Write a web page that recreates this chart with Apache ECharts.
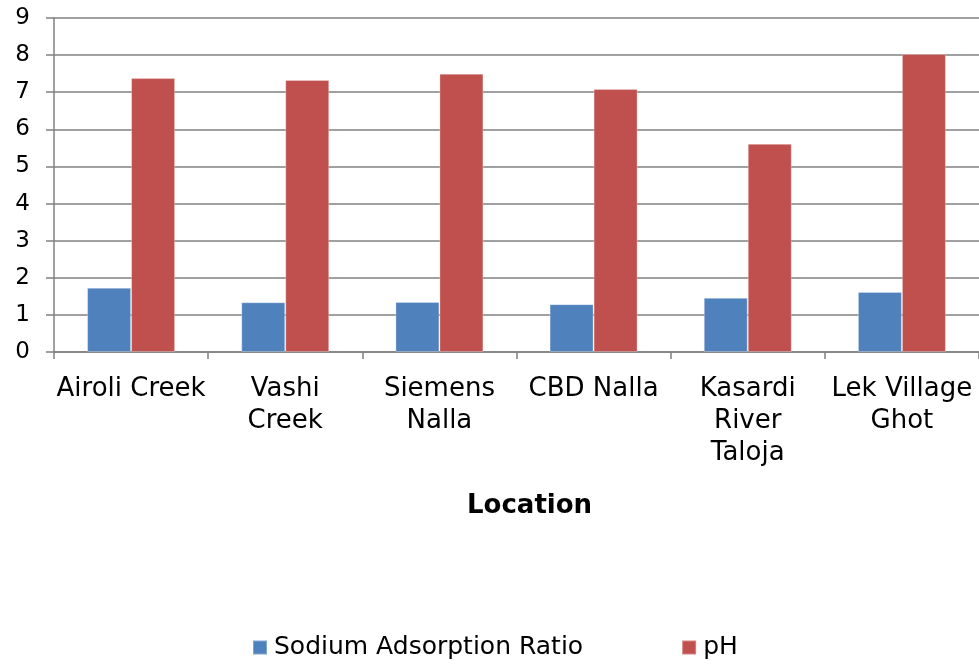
<!DOCTYPE html>
<html>
<head>
<meta charset="utf-8">
<script src="https://cdn.jsdelivr.net/npm/echarts@6/dist/echarts.min.js"></script>
<style>
  html, body { margin: 0; padding: 0; background: #fff; }
  #chart { width: 979px; height: 666px; }
</style>
</head>
<body>
<div id="chart"></div>
<script>
// Sampling locations along the x axis
const locations = [
  'Airoli Creek',
  'Vashi\nCreek',
  'Siemens\nNalla',
  'CBD Nalla',
  'Kasardi\nRiver\nTaloja',
  'Lek Village\nGhot'
];

// Measured values per location
const sodiumAdsorptionRatio = [1.73, 1.34, 1.35, 1.29, 1.46, 1.62];
const phValues = [7.38, 7.33, 7.50, 7.09, 5.61, 8.03];

// Value axis ticks
const yMin = 0;
const yMax = 9;
const yStep = 1;

const FONT = '"DejaVu Sans", Verdana, sans-serif';
const GRID_GREY = '#808080';

const chart = echarts.init(document.getElementById('chart'), null, { renderer: 'canvas' });

chart.setOption({
  backgroundColor: '#ffffff',
  animation: false,
  textStyle: { fontFamily: FONT },
  title: {
    text: 'Location',
    left: 467,
    top: 493,
    padding: 0,
    textStyle: { fontFamily: FONT, fontSize: 26, fontWeight: 'bold', color: '#000' }
  },
  legend: {
    left: 252,
    top: 635,
    padding: 0,
    itemWidth: 14,
    itemHeight: 14,
    itemGap: 98,
    icon: 'rect',
    textStyle: { fontFamily: FONT, fontSize: 25, color: '#000', padding: [0, 0, 0, 2] },
    data: ['Sodium Adsorption Ratio', 'pH']
  },
  grid: {
    left: 54,
    right: -7,
    top: 18,
    bottom: 314,
    containLabel: false
  },
  xAxis: {
    type: 'category',
    data: locations,
    axisLine: { show: true, lineStyle: { color: GRID_GREY, width: 1.5 } },
    axisTick: { show: true, length: 7, lineStyle: { color: GRID_GREY, width: 1.5 } },
    axisLabel: {
      interval: 0,
      margin: 21,
      fontFamily: FONT,
      fontSize: 26,
      lineHeight: 32,
      color: '#000',
      align: 'center'
    },
    splitLine: { show: false }
  },
  yAxis: {
    type: 'value',
    min: yMin,
    max: yMax,
    interval: yStep,
    axisLine: { show: true, lineStyle: { color: GRID_GREY, width: 1.5 } },
    axisTick: { show: true, length: 8, lineStyle: { color: GRID_GREY, width: 1.5 } },
    axisLabel: {
      margin: 24,
      fontFamily: FONT,
      fontSize: 23,
      color: '#000'
    },
    splitLine: { show: true, lineStyle: { color: GRID_GREY, width: 1.5 } }
  },
  series: [
    {
      name: 'Sodium Adsorption Ratio',
      type: 'bar',
      data: sodiumAdsorptionRatio,
      barWidth: 44,
      barGap: '0%',
      itemStyle: { color: '#4F81BD', borderColor: 'rgba(255,255,255,0.3)', borderWidth: 1 }
    },
    {
      name: 'pH',
      type: 'bar',
      data: phValues,
      barWidth: 44,
      barGap: '0%',
      itemStyle: { color: '#C0504D', borderColor: 'rgba(255,255,255,0.3)', borderWidth: 1 }
    }
  ]
});
</script>
</body>
</html>
